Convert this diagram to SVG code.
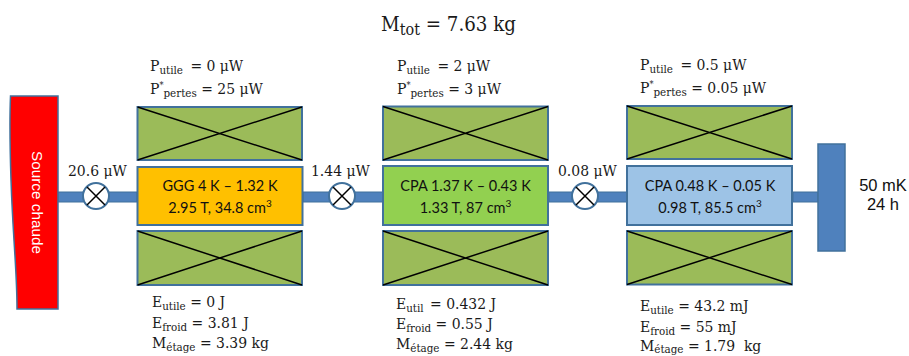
<svg xmlns="http://www.w3.org/2000/svg" width="909" height="356" viewBox="0 0 909 356">
<style>
.m{font-family:"DejaVu Serif Condensed","DejaVu Serif","Liberation Serif",serif;font-size:15.5px;fill:#1a1a1a}
.t{font-size:20.3px}
.ts{font-size:16px}
.s{font-size:11.5px}
.st{font-size:9px}
.sup{font-size:10px}
.c{font-family:Lato,"Open Sans",sans-serif;font-size:14.5px;fill:#111;text-anchor:middle}
.a{font-family:"Liberation Sans",Arial,sans-serif;font-size:16.5px;fill:#111;text-anchor:middle}
.g{fill:#9bbb59;stroke:#41719c;stroke-width:2}
.x{stroke:#000;stroke-width:1.5;fill:none}
.v{fill:#fff;stroke:#41719c;stroke-width:2}
.p{fill:#4f81bd;stroke:#41719c}
</style>
<g id="connectors">
<rect class="p" x="58" y="192" width="79" height="10"/>
<rect class="p" x="303" y="192" width="80" height="10"/>
<rect class="p" x="549" y="192" width="78" height="10"/>
<rect class="p" x="793" y="192" width="25" height="10"/>
</g>
<g id="source"><path d="M10.500 96 H58 V309 H17 C17 270 13 240 11 180 C10 150 9.500 120 10.500 96 Z" fill="#ff0000" stroke="#41719c" stroke-width="1.500"/>
<text transform="translate(32 202.500) rotate(90)" font-family="Liberation Sans,Arial,sans-serif" font-size="15.300" fill="#fff" text-anchor="middle">Source chaude</text></g>
<g id="sink"><rect x="818" y="144" width="27" height="107" fill="#4f81bd" stroke="#41719c" stroke-width="1.500"/></g>
<g id="sink-label"><text class="a" x="883" y="191">50 mK</text><text class="a" x="883" y="210">24 h</text></g>
<g id="title"><text class="m t" x="381" y="31">M<tspan class="ts" dy="4">tot</tspan><tspan dy="-4"> = 7.63 kg</tspan></text></g>

<g id="valve1"><circle class="v" cx="96" cy="196" r="13"/><path class="x" d="M87 187 L105 205 M105 187 L87 205"/></g>
<g id="valve2"><circle class="v" cx="342" cy="196" r="13"/><path class="x" d="M333 187 L351 205 M351 187 L333 205"/></g>
<g id="valve3"><circle class="v" cx="585" cy="196" r="13"/><path class="x" d="M576 187 L594 205 M594 187 L576 205"/></g>
<g id="flow1"><text class="m" x="68" y="176">20.6 μW</text></g>
<g id="flow2"><text class="m" x="311" y="176">1.44 μW</text></g>
<g id="flow3"><text class="m" x="558" y="176">0.08 μW</text></g>

<g id="stage1-top"><rect class="g" x="137.500" y="107" width="164.500" height="53"/><path class="x" d="M137.500 107 L302 160 M302 107 L137.500 160"/></g>
<g id="stage1-core"><rect x="137.500" y="167" width="165" height="58" fill="#ffc000" stroke="#41719c" stroke-width="2"/>
<text class="c" x="220" y="191">GGG 4 K – 1.32 K</text><text class="c" x="220" y="213">2.95 T, 34.8 cm<tspan class="sup" dy="-6">3</tspan></text></g>
<g id="stage1-bottom"><rect class="g" x="137.500" y="231" width="164.500" height="54"/><path class="x" d="M137.500 231 L302 285 M302 231 L137.500 285"/></g>
<g id="stage1-top-label"><text class="m" x="150" y="71">P<tspan class="s" dy="3">utile</tspan><tspan dx="3" dy="-3"> = 0 μW</tspan></text>
<text class="m" x="150" y="94">P<tspan class="st" dy="-6">*</tspan><tspan class="s" dy="9">pertes</tspan><tspan dy="-3"> = 25 μW</tspan></text></g>
<g id="stage1-bottom-label"><text class="m" x="152" y="307">E<tspan class="s" dy="3">utile</tspan><tspan dy="-3"> = 0 J</tspan></text>
<text class="m" x="152" y="328">E<tspan class="s" dy="3">froid</tspan><tspan dy="-3"> = 3.81 J</tspan></text>
<text class="m" x="152" y="348">M<tspan class="s" dy="3">étage</tspan><tspan dy="-3"> = 3.39 kg</tspan></text></g>

<g id="stage2-top"><rect class="g" x="383" y="106.500" width="165" height="53.500"/><path class="x" d="M383 106.500 L548 160 M548 106.500 L383 160"/></g>
<g id="stage2-core"><rect x="383" y="166" width="165" height="59" fill="#92d050" stroke="#41719c" stroke-width="2"/>
<text class="c" x="465.500" y="191">CPA 1.37 K – 0.43 K</text><text class="c" x="465.500" y="213">1.33 T, 87 cm<tspan class="sup" dy="-6">3</tspan></text></g>
<g id="stage2-bottom"><rect class="g" x="383" y="231" width="165" height="54"/><path class="x" d="M383 231 L548 285 M548 231 L383 285"/></g>
<g id="stage2-top-label"><text class="m" x="397" y="71">P<tspan class="s" dy="3">utile</tspan><tspan dx="3" dy="-3"> = 2 μW</tspan></text>
<text class="m" x="397" y="94">P<tspan class="st" dy="-6">*</tspan><tspan class="s" dy="9">pertes</tspan><tspan dy="-3"> = 3 μW</tspan></text></g>
<g id="stage2-bottom-label"><text class="m" x="396" y="309">E<tspan class="s" dy="3">util</tspan><tspan dx="2" dy="-3"> = 0.432 J</tspan></text>
<text class="m" x="396" y="329">E<tspan class="s" dy="3">froid</tspan><tspan dy="-3"> = 0.55 J</tspan></text>
<text class="m" x="396" y="349">M<tspan class="s" dy="3">étage</tspan><tspan dy="-3"> = 2.44 kg</tspan></text></g>

<g id="stage3-top"><rect class="g" x="627" y="106" width="165" height="53"/><path class="x" d="M627 106 L792 159 M792 106 L627 159"/></g>
<g id="stage3-core"><rect x="627" y="166" width="165" height="59" fill="#9dc3e6" stroke="#41719c" stroke-width="2"/>
<text class="c" x="710" y="191">CPA 0.48 K – 0.05 K</text><text class="c" x="710" y="213">0.98 T, 85.5 cm<tspan class="sup" dy="-6">3</tspan></text></g>
<g id="stage3-bottom"><rect class="g" x="627" y="231" width="165" height="53.500"/><path class="x" d="M627 231 L792 284.500 M792 231 L627 284.500"/></g>
<g id="stage3-top-label"><text class="m" x="640" y="70">P<tspan class="s" dy="3">utile</tspan><tspan dx="3" dy="-3"> = 0.5 μW</tspan></text>
<text class="m" x="640" y="93">P<tspan class="st" dy="-6">*</tspan><tspan class="s" dy="9">pertes</tspan><tspan dy="-3"> = 0.05 μW</tspan></text></g>
<g id="stage3-bottom-label"><text class="m" x="640" y="311">E<tspan class="s" dy="3">utile</tspan><tspan dy="-3"> = 43.2 mJ</tspan></text>
<text class="m" x="640" y="332">E<tspan class="s" dy="3">froid</tspan><tspan dy="-3"> = 55 mJ</tspan></text>
<text class="m" x="640" y="351">M<tspan class="s" dy="2">étage</tspan><tspan dy="-2"> = 1.79&#160; kg</tspan></text></g>
</svg>
